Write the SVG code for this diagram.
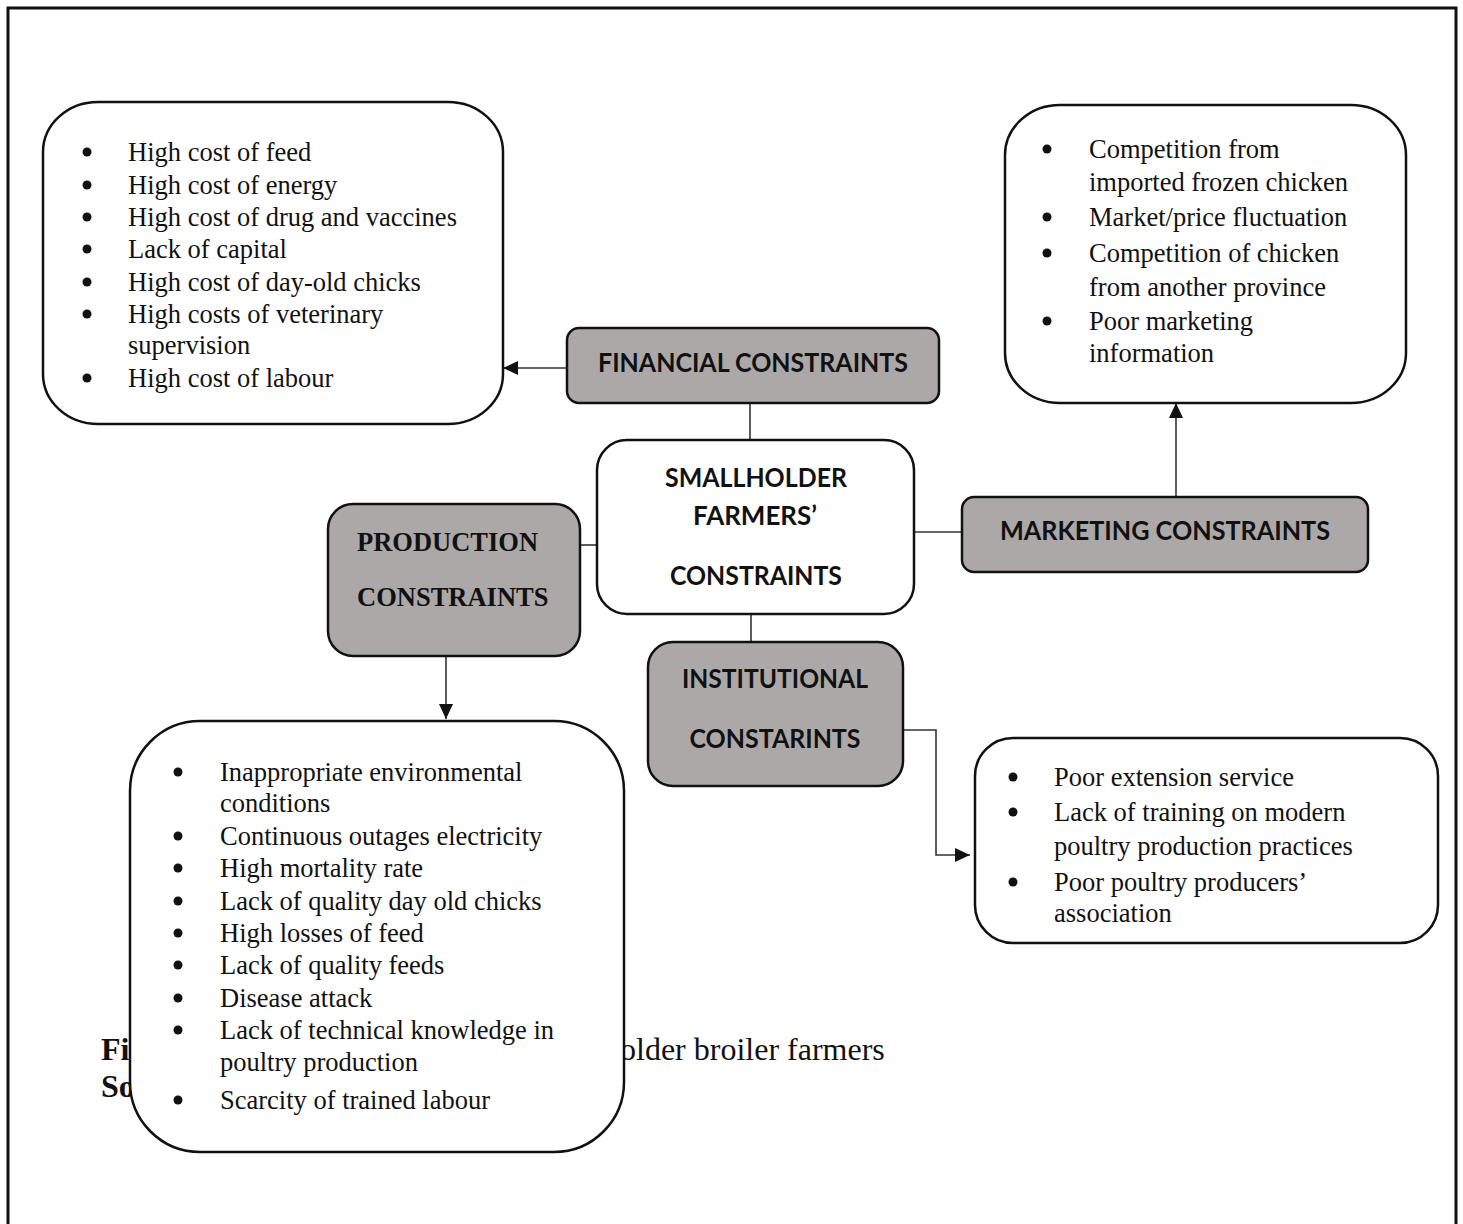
<svg xmlns="http://www.w3.org/2000/svg" width="1463" height="1224" viewBox="0 0 1463 1224">
<style>
.list{fill:#fff;stroke:#111;stroke-width:2.5}
.hdr{fill:#aca8a8;stroke:#111;stroke-width:2.5}
.ser{font-family:"Liberation Serif","Times New Roman",serif;font-size:26.5px;fill:#111}
.serb{font-family:"Liberation Serif","Times New Roman",serif;font-size:26.5px;font-weight:bold;fill:#111}
.sans{font-family:Lato,"Open Sans","Liberation Sans",sans-serif;font-size:26px;font-weight:bold;fill:#111}
.cap{font-family:"Liberation Serif","Times New Roman",serif;font-size:32px;fill:#111}
.bul{fill:#111}
.con{fill:none;stroke:#333;stroke-width:1.6}
</style>
<defs>
<marker id="arr" markerUnits="userSpaceOnUse" markerWidth="16" markerHeight="14" refX="15" refY="7" orient="auto">
<path d="M0,0 L15,7 L0,14 z" fill="#111"/>
</marker>
</defs>
<rect x="0" y="0" width="1463" height="1224" fill="#fff"/>
<path d="M8,1230 V8 H1456 V1230" fill="none" stroke="#111" stroke-width="3"/>

<g id="caption">
<text class="cap" x="101" y="1060" font-weight="bold">Fi</text>
<text class="cap" x="101" y="1097" font-weight="bold">So</text>
<text class="cap" x="620" y="1060">older broiler farmers</text>
</g>

<g id="connectors">
<line class="con" x1="567" y1="368" x2="503" y2="368" marker-end="url(#arr)"/>
<line class="con" x1="750" y1="403" x2="750" y2="440"/>
<line class="con" x1="914" y1="532" x2="962" y2="532"/>
<line class="con" x1="1176" y1="497" x2="1176" y2="403" marker-end="url(#arr)"/>
<line class="con" x1="580" y1="545" x2="597" y2="545"/>
<line class="con" x1="446" y1="656" x2="446" y2="719" marker-end="url(#arr)"/>
<line class="con" x1="751" y1="614" x2="751" y2="642"/>
<polyline class="con" points="903,730 936,730 936,855 970,855" marker-end="url(#arr)"/>
</g>

<g id="financial-list">
<rect class="list" x="43" y="102" width="460" height="322" rx="55" ry="50"/>
<g class="bul">
<circle cx="87" cy="152" r="4.5"/><circle cx="87" cy="185" r="4.5"/><circle cx="87" cy="217" r="4.5"/><circle cx="87" cy="249" r="4.5"/><circle cx="87" cy="282" r="4.5"/><circle cx="87" cy="314" r="4.5"/><circle cx="87" cy="378" r="4.5"/>
</g>
<text class="ser" x="128" y="161">High cost of feed</text>
<text class="ser" x="128" y="194">High cost of energy</text>
<text class="ser" x="128" y="226">High cost of drug and vaccines</text>
<text class="ser" x="128" y="258">Lack of capital</text>
<text class="ser" x="128" y="291">High cost of day-old chicks</text>
<text class="ser" x="128" y="323">High costs of veterinary</text>
<text class="ser" x="128" y="354">supervision</text>
<text class="ser" x="128" y="387">High cost of labour</text>
</g>

<g id="financial">
<rect class="hdr" x="567" y="328" width="372" height="75" rx="12"/>
<text class="sans" x="753" y="372" text-anchor="middle" textLength="310" lengthAdjust="spacingAndGlyphs">FINANCIAL CONSTRAINTS</text>
</g>

<g id="marketing-list">
<rect class="list" x="1005" y="105" width="401" height="298" rx="55" ry="50"/>
<g class="bul">
<circle cx="1047" cy="149" r="4.5"/><circle cx="1047" cy="217" r="4.5"/><circle cx="1047" cy="253" r="4.5"/><circle cx="1047" cy="321" r="4.5"/>
</g>
<text class="ser" x="1089" y="158">Competition from</text>
<text class="ser" x="1089" y="191">imported frozen chicken</text>
<text class="ser" x="1089" y="226">Market/price fluctuation</text>
<text class="ser" x="1089" y="262">Competition of chicken</text>
<text class="ser" x="1089" y="296">from another province</text>
<text class="ser" x="1089" y="330">Poor marketing</text>
<text class="ser" x="1089" y="362">information</text>
</g>

<g id="center">
<rect class="list" x="597" y="440" width="317" height="174" rx="30"/>
<text class="sans" x="756" y="487" text-anchor="middle" textLength="182" lengthAdjust="spacingAndGlyphs">SMALLHOLDER</text>
<text class="sans" x="755" y="525" text-anchor="middle" textLength="124" lengthAdjust="spacingAndGlyphs">FARMERS’</text>
<text class="sans" x="756" y="585" text-anchor="middle" textLength="172" lengthAdjust="spacingAndGlyphs">CONSTRAINTS</text>
</g>

<g id="marketing">
<rect class="hdr" x="962" y="497" width="406" height="75" rx="12"/>
<text class="sans" x="1165" y="540" text-anchor="middle" textLength="330" lengthAdjust="spacingAndGlyphs">MARKETING CONSTRAINTS</text>
</g>

<g id="production">
<rect class="hdr" x="328" y="504" width="252" height="152" rx="25"/>
<text class="serb" x="357" y="551">PRODUCTION</text>
<text class="serb" x="357" y="606">CONSTRAINTS</text>
</g>

<g id="institutional">
<rect class="hdr" x="648" y="642" width="255" height="144" rx="25"/>
<text class="sans" x="775" y="688" text-anchor="middle" textLength="186" lengthAdjust="spacingAndGlyphs">INSTITUTIONAL</text>
<text class="sans" x="775" y="748" text-anchor="middle" textLength="171" lengthAdjust="spacingAndGlyphs">CONSTARINTS</text>
</g>

<g id="institutional-list">
<rect class="list" x="975" y="738" width="463" height="205" rx="38"/>
<g class="bul">
<circle cx="1013" cy="777" r="4.5"/><circle cx="1013" cy="812" r="4.5"/><circle cx="1013" cy="882" r="4.5"/>
</g>
<text class="ser" x="1054" y="786">Poor extension service</text>
<text class="ser" x="1054" y="821">Lack of training on modern</text>
<text class="ser" x="1054" y="855">poultry production practices</text>
<text class="ser" x="1054" y="891">Poor poultry producers’</text>
<text class="ser" x="1054" y="922">association</text>
</g>

<g id="production-list">
<rect class="list" x="130" y="721" width="494" height="431" rx="70"/>
<g class="bul">
<circle cx="178" cy="772" r="4.5"/><circle cx="178" cy="836" r="4.5"/><circle cx="178" cy="868" r="4.5"/><circle cx="178" cy="901" r="4.5"/><circle cx="178" cy="933" r="4.5"/><circle cx="178" cy="965" r="4.5"/><circle cx="178" cy="998" r="4.5"/><circle cx="178" cy="1030" r="4.5"/><circle cx="178" cy="1100" r="4.5"/>
</g>
<text class="ser" x="220" y="781">Inappropriate environmental</text>
<text class="ser" x="220" y="812">conditions</text>
<text class="ser" x="220" y="845">Continuous outages electricity</text>
<text class="ser" x="220" y="877">High mortality rate</text>
<text class="ser" x="220" y="910">Lack of quality day old chicks</text>
<text class="ser" x="220" y="942">High losses of feed</text>
<text class="ser" x="220" y="974">Lack of quality feeds</text>
<text class="ser" x="220" y="1007">Disease attack</text>
<text class="ser" x="220" y="1039">Lack of technical knowledge in</text>
<text class="ser" x="220" y="1071">poultry production</text>
<text class="ser" x="220" y="1109">Scarcity of trained labour</text>
</g>
</svg>
